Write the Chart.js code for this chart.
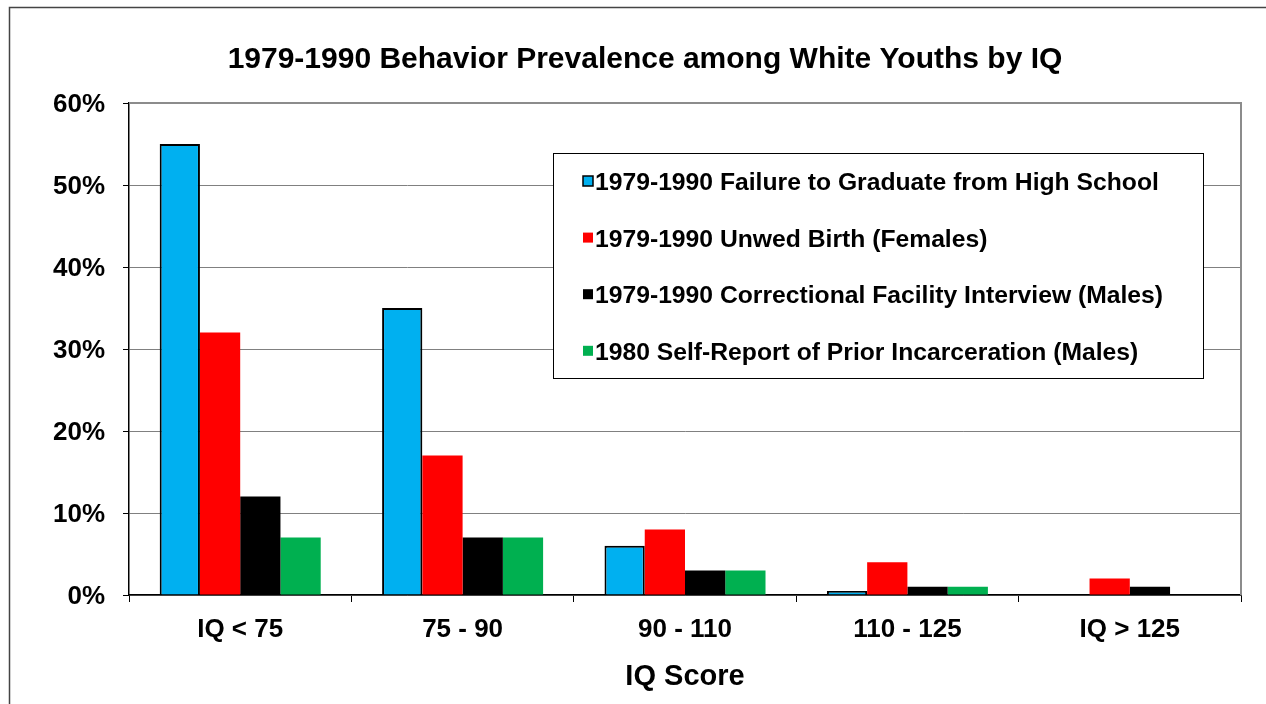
<!DOCTYPE html>
<html><head><meta charset="utf-8">
<script src="https://cdn.jsdelivr.net/npm/chart.js@4/dist/chart.umd.min.js"></script>
<style>html,body{margin:0;padding:0;background:#fff;overflow:hidden}canvas{display:block}</style>
</head><body>
<canvas id="c" width="1266" height="704"></canvas>
<script>
const categories = ['IQ < 75', '75 - 90', '90 - 110', '110 - 125', 'IQ > 125'];
const failGrad = [55, 35, 6, 0.5, 0];
const unwedBirth = [32, 17, 8, 4, 2];
const correctional = [12, 7, 3, 1, 1];
const selfReport = [7, 7, 3, 1, 0];
const seriesLabels = [
  '1979-1990 Failure to Graduate from High School',
  '1979-1990 Unwed Birth (Females)',
  '1979-1990 Correctional Facility Interview (Males)',
  '1980 Self-Report of Prior Incarceration (Males)'
];
const yMin = 0, yMax = 60, yStep = 10;
const chartTitle = '1979-1990 Behavior Prevalence among White Youths by IQ';
const xTitle = 'IQ Score';

const FONT = 'Liberation Sans, Arial, sans-serif';

const decor = {
  id: 'decor',
  beforeDraw(chart) {
    const ctx = chart.ctx;
    ctx.save();
    ctx.fillStyle = '#fff';
    ctx.fillRect(0, 0, chart.width, chart.height);
    ctx.strokeStyle = '#444';
    ctx.lineWidth = 1.5;
    ctx.beginPath();
    ctx.moveTo(9.5, chart.height);
    ctx.lineTo(9.5, 7.5);
    ctx.lineTo(chart.width, 7.5);
    ctx.stroke();
    ctx.restore();
  },
  afterDraw(chart) {
    const ctx = chart.ctx;
    const a = chart.chartArea;
    ctx.save();
    // plot area top/right border
    ctx.strokeStyle = '#8c8c8c';
    ctx.lineWidth = 2;
    ctx.beginPath();
    ctx.moveTo(a.left, a.top);
    ctx.lineTo(a.right, a.top);
    ctx.lineTo(a.right, a.bottom);
    ctx.stroke();
    // title
    ctx.fillStyle = '#000';
    ctx.font = 'bold 30px ' + FONT;
    ctx.textAlign = 'center';
    ctx.textBaseline = 'alphabetic';
    ctx.fillText(chartTitle, 645, 68);
    // legend
    const bx = 553.5, by = 153.5, bw = 650, bh = 225;
    ctx.fillStyle = '#fff';
    ctx.fillRect(bx, by, bw, bh);
    ctx.strokeStyle = '#000';
    ctx.lineWidth = 1;
    ctx.strokeRect(bx, by, bw, bh);
    ctx.font = 'bold 24.7px ' + FONT;
    ctx.textAlign = 'left';
    chart.data.datasets.forEach((ds, i) => {
      const base = 190 + i * 56.6;
      const my = base - 14;
      ctx.fillStyle = ds.backgroundColor;
      ctx.fillRect(583, my, 10, 10);
      if (ds.borderWidth) {
        ctx.strokeStyle = '#000';
        ctx.lineWidth = 1.5;
        ctx.strokeRect(583, my, 10, 10);
      }
      ctx.fillStyle = '#000';
      ctx.fillText(ds.label, 595, base);
    });
    ctx.restore();
  }
};

new Chart(document.getElementById('c'), {
  type: 'bar',
  data: {
    labels: categories,
    datasets: [
      { label: seriesLabels[0], data: failGrad, backgroundColor: '#00b0f0', borderColor: '#000', borderWidth: 2 },
      { label: seriesLabels[1], data: unwedBirth, backgroundColor: '#ff0000', borderWidth: 0 },
      { label: seriesLabels[2], data: correctional, backgroundColor: '#000000', borderWidth: 0 },
      { label: seriesLabels[3], data: selfReport, backgroundColor: '#00b050', borderWidth: 0 }
    ]
  },
  options: {
    responsive: false,
    animation: false,
    devicePixelRatio: 1,
    layout: { padding: { left: 0, right: 25, top: 103, bottom: 0 } },
    datasets: { bar: { categoryPercentage: 0.724, barPercentage: 1 } },
    plugins: { legend: { display: false }, title: { display: false }, tooltip: { enabled: false } },
    scales: {
      x: {
        afterFit(s) { s.height = 109; },
        grid: { display: true, drawOnChartArea: false, offset: true, tickLength: 7, color: '#000', tickColor: '#000', lineWidth: 1 },
        border: { display: true, color: '#000', width: 1.5 },
        ticks: { color: '#000', font: { family: FONT, size: 26, weight: 'bold' }, padding: 12, maxRotation: 0 },
        title: { display: true, text: xTitle, color: '#000', font: { family: FONT, size: 29, weight: 'bold' }, padding: { top: 0, bottom: 10 } }
      },
      y: {
        min: yMin, max: yMax,
        afterFit(s) { s.width = 129; },
        grid: { color: '#808080', lineWidth: 1, tickLength: 6, tickColor: '#000' },
        border: { display: true, color: '#000', width: 1.5 },
        ticks: { stepSize: yStep, color: '#000', padding: 18, labelOffset: 2, font: { family: FONT, size: 26, weight: 'bold' }, callback: v => v + '%' }
      }
    }
  },
  plugins: [decor]
});
</script>
</body></html>
